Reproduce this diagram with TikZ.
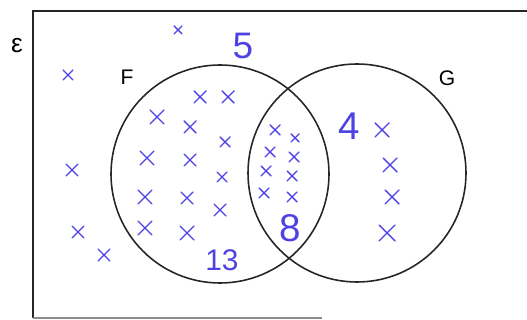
\documentclass[tikz,border=0pt]{standalone}
\usepackage{fontspec}
\setmainfont{Liberation Sans}
\usepackage{xcolor}
\definecolor{pen}{RGB}{78,66,228}

\begin{document}
\begin{tikzpicture}[x=0.02cm, y=-0.02cm]
                \tikzstyle{setline} = [draw=black!85, line width=0.9pt]
                \tikzstyle{penline} = [draw=pen, line width=0.8pt, line cap=round]
                \tikzstyle{setlabel} = [inner sep=0pt, font=\fontsize{12}{14}\selectfont]
                \tikzstyle{count} = [inner sep=0pt, text=pen, font=\fontsize{20}{22}\selectfont]
                \useasboundingbox (0,0) rectangle (527,320);

                % universal set
                \draw [setline] (530,11) -- (33,11) -- (33,318);
                \draw [draw=black!45, line width=0.9pt] (33,318) -- (322,318);
                \node (eps) [setlabel, font=\fontsize{15}{17}\selectfont] at (17,46) {ε};

                % the two sets
                \draw [setline] (220,174) circle (109);
                \draw [setline] (357,173) circle (109);
                \node (F) [setlabel] at (127,77) {F};
                \node (G) [setlabel] at (447,78) {G};

                % crosses: x / y / half size
                \foreach \x/\y/\s in {178/30/4, 68/75/5, 72/170/6, 78/232/6, 104/255/6,
                                      200/97/6, 228/97/6, 157/117/7, 190/127/6, 225/142/5,
                                      147/158/7, 190/160/6, 222/177/5, 145/197/7, 187/198/6,
                                      220/210/6, 145/228/7, 187/233/7,
                                      275/130/5, 295/138/4, 270/152/5, 294/157/5,
                                      266/171/5, 292/176/5, 264/193/5, 292/197/5,
                                      382/130/7, 390/165/7, 392/197/7, 387/233/8}
                {
                    \draw [penline] (\x-\s,\y-\s) -- (\x+\s,\y+\s);
                    \draw [penline] (\x-\s,\y+\s) -- (\x+\s,\y-\s);
                }

                % counts
                \node (nout) [count, font=\fontsize{21}{23}\selectfont] at (243,46) {5};
                \node (nF) [count, font=\fontsize{17}{19}\selectfont] at (222,260) {13};
                \node (nFG) [count, font=\fontsize{22}{24}\selectfont] at (290,228) {8};
                \node (nG) [count, font=\fontsize{22}{24}\selectfont] at (349,126) {4};
            \end{tikzpicture}
\end{document}
